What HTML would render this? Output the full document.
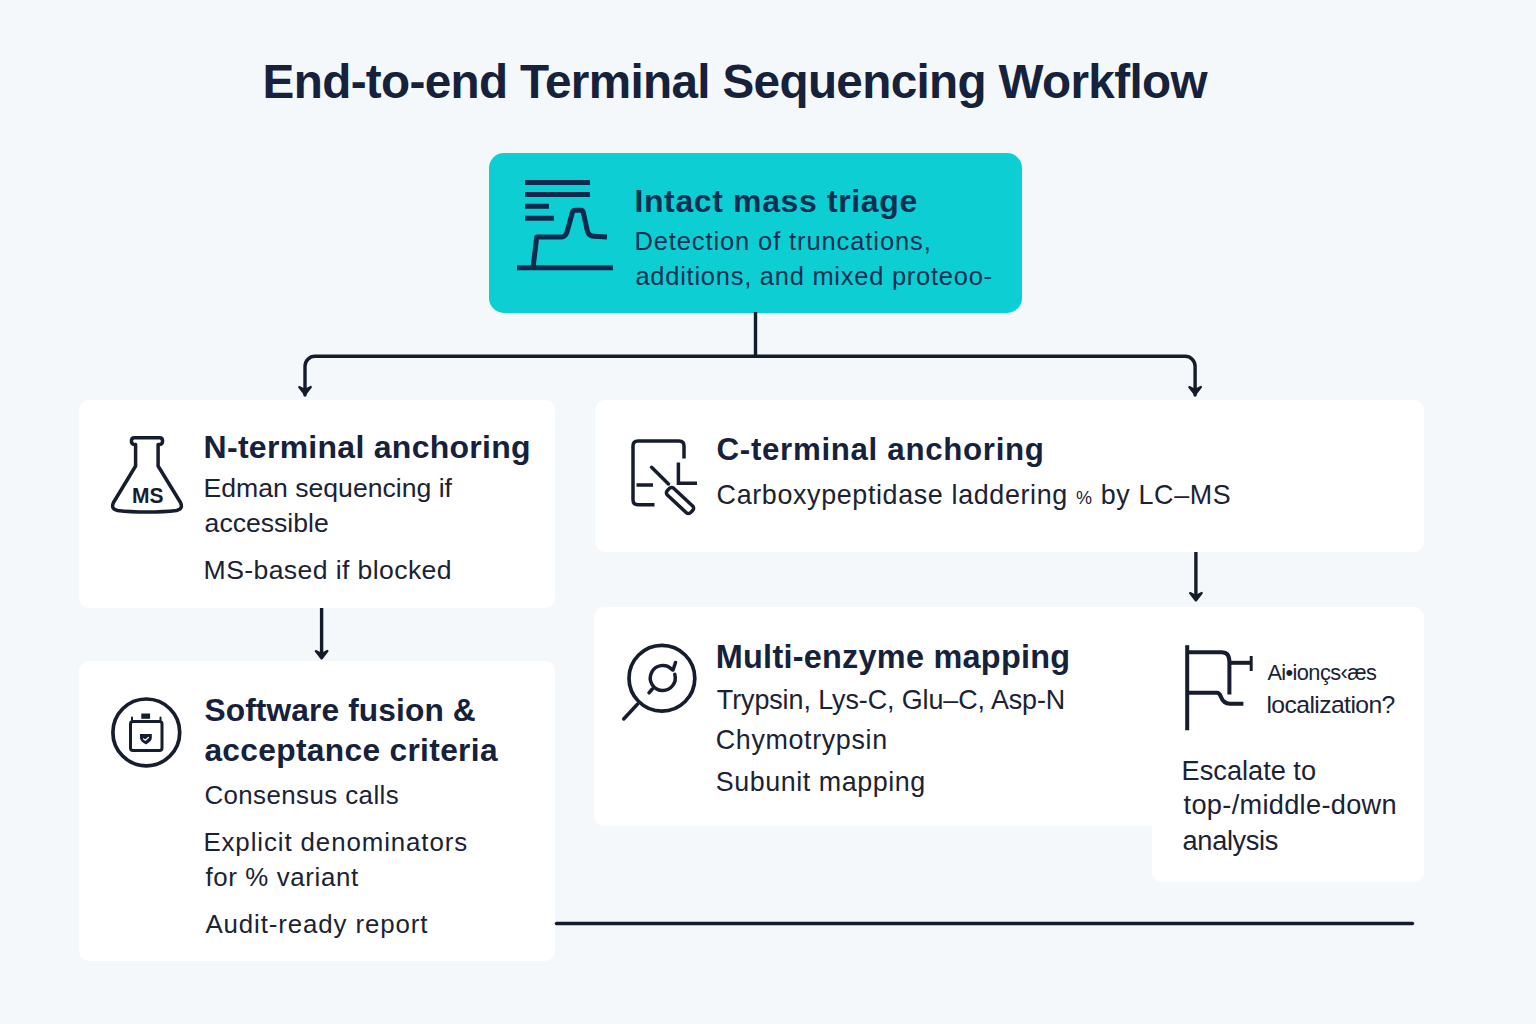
<!DOCTYPE html>
<html><head><meta charset="utf-8"><style>
html,body{margin:0;padding:0;}
body{width:1536px;height:1024px;background:#f4f8fb;position:relative;overflow:hidden;font-family:"Liberation Sans",sans-serif;}
.card{position:absolute;background:#ffffff;border-radius:10px;}
.t{position:absolute;white-space:nowrap;line-height:1;}
svg{position:absolute;left:0;top:0;}
</style></head><body>
<div class="card" style="left:489px;top:153px;width:533px;height:160px;background:#0dced3;border-radius:15px"></div>
<div class="card" style="left:79px;top:400px;width:476px;height:208px"></div>
<div class="card" style="left:595px;top:400px;width:829px;height:152px"></div>
<div class="card" style="left:79px;top:661px;width:476px;height:300px"></div>
<div class="card" style="left:594px;top:607px;width:830px;height:219px"></div>
<div class="card" style="left:1152px;top:607px;width:272px;height:275px"></div>
<svg width="1536" height="1024" viewBox="0 0 1536 1024" fill="none" stroke="#141b2b" stroke-width="3.4" stroke-linecap="round" stroke-linejoin="round">
  <!-- connectors -->
  <path d="M755.5 312 V356.3" stroke-linecap="butt"/>
  <path d="M305 395 V366.3 a10 10 0 0 1 10 -10 H1185.1 a10 10 0 0 1 10 10 V395"/>
  <path d="M299.2 387.0 L305.0 390.0 L310.8 387.0 L305.0 394.5 Z" fill="#141b2b" stroke-width="2.2"/>
  <path d="M1189.3 387.0 L1195.1 390.0 L1200.9 387.0 L1195.1 394.5 Z" fill="#141b2b" stroke-width="2.2"/>
  <path d="M321.6 608 V656" stroke-linecap="butt"/>
  <path d="M315.8 651.0 L321.6 654.0 L327.4 651.0 L321.6 658.5 Z" fill="#141b2b" stroke-width="2.2"/>
  <path d="M1195.9 552 V598" stroke-linecap="butt"/>
  <path d="M1190.1 593.0 L1195.9 596.0 L1201.7 593.0 L1195.9 600.5 Z" fill="#141b2b" stroke-width="2.2"/>
  <path d="M556.5 923.5 H1412.5"/>
  <!-- icon: intact mass -->
  <g stroke="#0e2a4c" stroke-width="5" stroke-linecap="butt">
    <path d="M525 182.4 H590 M525 194.5 H590 M525 206.3 H549 M525 218.3 H554"/>
    <path d="M517 267.7 H613"/>
    <path d="M533 268 L536.7 237.1 H562 Q565.5 236.6 567 232 L572.5 212 Q573.2 210.3 575 210.3 H581 Q582.8 210.3 583.3 212.5 L587.5 231.5 Q589 236 594 236.3 L607 237" stroke-linejoin="round"/>
  </g>
  <!-- icon: flask -->
  <g stroke="#161d2e" stroke-width="3.5">
    <path d="M135.6 444.5 V466 L113.5 502.5 Q110.5 509 117.5 510.5 Q130 512 147 512 Q164 512 176.5 510.5 Q183.5 509 180.5 502.5 L158.1 466 V444.5 H159.7 Q162.6 444.5 162.6 441.1 Q162.6 437.7 159.7 437.7 H134.3 Q131.4 437.7 131.4 441.1 Q131.4 444.5 134.3 444.5 Z"/>
    <text x="132" y="502.6" fill="#161d2e" stroke="none" font-family="Liberation Sans" font-weight="700" font-size="22.5" textLength="31.5" lengthAdjust="spacingAndGlyphs">MS</text>
  </g>
  <!-- icon: C-terminal -->
  <g stroke="#161d2e" stroke-width="3.5">
    <path d="M654.5 504.7 H638 Q633 504.7 633 499.7 V446 Q633 441 638 441 H679 Q684 441 684 446 V458.5" stroke-linecap="butt"/>
    <path d="M636.5 485 H653" stroke-linecap="butt"/>
    <path d="M678.4 462.5 V483.2 H697" stroke-linecap="butt" stroke-linejoin="miter"/>
    <path d="M651.6 467.3 L668.5 484"/>
    <rect x="-16" y="-4.6" width="32" height="9.2" rx="3" transform="translate(680 500.5) rotate(43)"/>
  </g>
  <!-- icon: software fusion -->
  <g stroke="#161d2e" stroke-width="3.5">
    <circle cx="146.3" cy="732.4" r="33.4" stroke-width="3.7"/>
    <rect x="130.5" y="721.5" width="31.5" height="29" rx="2.5" stroke-width="3"/>
    <rect x="141.3" y="713.5" width="8.8" height="5.3" fill="#161d2e" stroke="none"/>
    <path d="M132 717.5 V720 M160.5 717.5 V720" stroke-width="2"/>
    <path d="M140 734.1 H151.8 V738 Q151.8 741.2 145.9 744.4 Q140 741.2 140 738 Z" fill="#161d2e" stroke="none"/>
    <path d="M143.6 739 L145.4 740.3 L148.4 737.4" stroke="#fff" stroke-width="1.3"/>
  </g>
  <!-- icon: multi-enzyme -->
  <g stroke="#161d2e" stroke-width="3.5">
    <circle cx="661.9" cy="678.3" r="32.9" stroke-width="3.7"/>
    <path d="M637.4 704.3 L623.7 719"/>
    <path d="M674.75 674.35 A12.5 12.5 0 1 1 671.8 669.3"/>
    <path d="M675.5 662.5 L673 670"/>
    <path d="M649 692.8 L652.3 689"/>
  </g>
  <!-- icon: escalate -->
  <g stroke="#161d2e" stroke-width="4" stroke-linecap="butt">
    <path d="M1187.2 645.2 V730.3"/>
    <path d="M1187.2 652.2 H1221.6 Q1229.4 652.2 1229.4 661.6 V694.4"/>
    <path d="M1229.4 662.8 H1251.2"/>
    <path d="M1251.2 656 V671" stroke-width="3"/>
    <path d="M1187.2 692.8 H1216.9 Q1219.5 692.8 1221 697 Q1223.5 703.7 1230 703.7 H1243.4"/>
  </g>
</svg>

<div class="t" id="title" style="left:262.6px;top:58.42px;font-size:47.67px;font-weight:700;color:#16213b;letter-spacing:-0.658px">End-to-end Terminal Sequencing Workflow</div>
<div class="t" id="i1" style="left:634.4px;top:184.61px;font-size:31.98px;font-weight:700;color:#0e2f52;letter-spacing:0.647px">Intact mass triage</div>
<div class="t" id="i2" style="left:634.4px;top:228.51px;font-size:25.44px;font-weight:400;color:#0e2f52;letter-spacing:0.917px">Detection of truncations,</div>
<div class="t" id="i3" style="left:635.4px;top:263.90px;font-size:25.44px;font-weight:400;color:#0e2f52;letter-spacing:0.768px">additions, and mixed proteoo-</div>
<div class="t" id="n1" style="left:203.6px;top:431.00px;font-size:31.98px;font-weight:700;color:#16213b;letter-spacing:0.289px">N-terminal anchoring</div>
<div class="t" id="n2" style="left:203.6px;top:474.81px;font-size:26.60px;font-weight:400;color:#1b2233;letter-spacing:0.000px">Edman sequencing if</div>
<div class="t" id="n3" style="left:204.6px;top:510.01px;font-size:26.60px;font-weight:400;color:#1b2233;letter-spacing:0.000px">accessible</div>
<div class="t" id="n4" style="left:203.6px;top:556.81px;font-size:26.60px;font-weight:400;color:#1b2233;letter-spacing:0.389px">MS-based if blocked</div>
<div class="t" id="c1" style="left:716.6px;top:434.21px;font-size:31.25px;font-weight:700;color:#16213b;letter-spacing:0.684px">C-terminal anchoring</div>
<div class="t" id="c2" style="left:716.6px;top:482.10px;font-size:26.89px;font-weight:400;color:#1b2233;letter-spacing:0.639px">Carboxypeptidase laddering <span style="font-size:18px">%</span> by LC–MS</div>
<div class="t" id="s1" style="left:204.4px;top:694.61px;font-size:31.69px;font-weight:700;color:#16213b;letter-spacing:0.125px">Software fusion &</div>
<div class="t" id="s2" style="left:204.4px;top:735.21px;font-size:31.69px;font-weight:700;color:#16213b;letter-spacing:0.333px">acceptance criteria</div>
<div class="t" id="s3" style="left:204.4px;top:783.41px;font-size:25.87px;font-weight:400;color:#1b2233;letter-spacing:0.429px">Consensus calls</div>
<div class="t" id="s4" style="left:203.4px;top:830.32px;font-size:25.87px;font-weight:400;color:#1b2233;letter-spacing:0.900px">Explicit denominators</div>
<div class="t" id="s5" style="left:205.4px;top:864.61px;font-size:25.87px;font-weight:400;color:#1b2233;letter-spacing:0.633px">for % variant</div>
<div class="t" id="s6" style="left:205.4px;top:911.61px;font-size:25.87px;font-weight:400;color:#1b2233;letter-spacing:0.882px">Audit-ready report</div>
<div class="t" id="m1" style="left:715.8px;top:641.30px;font-size:32.41px;font-weight:700;color:#16213b;letter-spacing:0.263px">Multi-enzyme mapping</div>
<div class="t" id="m2" style="left:716.8px;top:687.21px;font-size:26.89px;font-weight:400;color:#1b2233;letter-spacing:-0.074px">Trypsin, Lys-C, Glu–C, Asp-N</div>
<div class="t" id="m3" style="left:715.8px;top:726.76px;font-size:26.89px;font-weight:400;color:#1b2233;letter-spacing:0.636px">Chymotrypsin</div>
<div class="t" id="m4" style="left:715.8px;top:768.82px;font-size:26.89px;font-weight:400;color:#1b2233;letter-spacing:0.543px">Subunit mapping</div>
<div class="t" id="e0" style="left:1267.4px;top:661.51px;font-size:21.80px;font-weight:400;color:#1b2233;letter-spacing:-0.600px">Ai•ionçs‹æs</div>
<div class="t" id="e1" style="left:1266.4px;top:693.11px;font-size:24.71px;font-weight:400;color:#1b2233;letter-spacing:-0.583px">localization?</div>
<div class="t" id="e2" style="left:1181.6px;top:757.00px;font-size:27.18px;font-weight:400;color:#1b2233;letter-spacing:0.000px">Escalate to</div>
<div class="t" id="e3" style="left:1183.6px;top:791.20px;font-size:27.18px;font-weight:400;color:#1b2233;letter-spacing:0.307px">top-/middle-down</div>
<div class="t" id="e4" style="left:1182.6px;top:827.00px;font-size:27.18px;font-weight:400;color:#1b2233;letter-spacing:-0.343px">analysis</div>
</body></html>
